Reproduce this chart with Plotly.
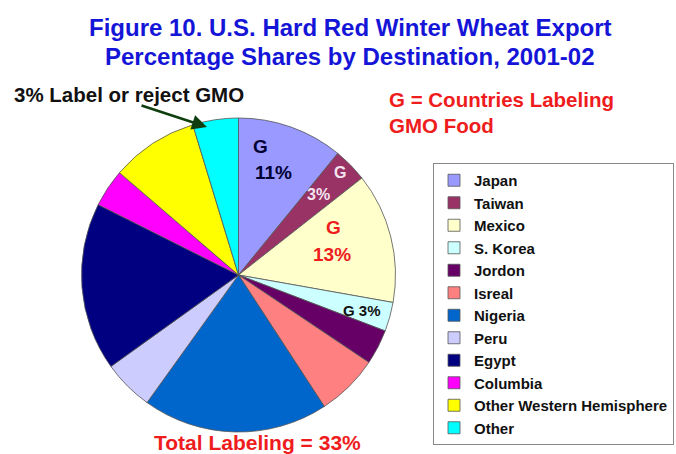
import plotly.graph_objects as go

countries = ["Japan", "Taiwan", "Mexico", "S. Korea", "Jordon", "Isreal", "Nigeria",
             "Peru", "Egypt", "Columbia", "Other Western Hemisphere", "Other"]
shares = [10.9, 3.5, 13.4, 3.0, 3.6, 6.4, 19.1, 5.2, 17.3, 3.9, 9.0, 4.7]
colors = ["#9999FF", "#993366", "#FFFFCC", "#CCFFFF", "#660066", "#FF8080", "#0066CC",
          "#CCCCFF", "#000080", "#FF00FF", "#FFFF00", "#00FFFF"]

W, H = 676, 454
cx, cy, R = 238.5, 275, 157

fig = go.Figure(go.Pie(
    labels=countries, values=shares, sort=False, direction="clockwise", rotation=0,
    marker=dict(colors=colors, line=dict(color="#555555", width=0.8)),
    textinfo="none", hoverinfo="label+percent",
    domain=dict(x=[(cx - R) / W, (cx + R) / W], y=[1 - (cy + R) / H, 1 - (cy - R) / H]),
))

def px(x, y):
    return dict(x=x / W, y=1 - y / H, xref="paper", yref="paper")

F = "Liberation Sans, Arial, sans-serif"
ann = []
def txt(s, x, y, size, color, anchor="center"):
    a = dict(text=s, showarrow=False, font=dict(family=F, size=size, color=color, weight="bold"),
             xanchor=anchor, yanchor="middle", **px(x, y))
    ann.append(a)

txt("Figure 10. U.S. Hard Red Winter Wheat Export", 350, 27, 24, "#1515D8")
txt("Percentage Shares by Destination, 2001-02", 350, 57, 24, "#1515D8")
txt("3% Label or reject GMO", 128.5, 95, 20.5, "#111111")
txt("G = Countries Labeling", 387, 100, 20.5, "#EE1C1C", "left")
txt("GMO Food", 387, 125, 20.5, "#EE1C1C", "left")
txt("G", 260, 147, 19, "#000033")
txt("11%", 273, 173, 19, "#000033")
txt("G", 340, 173, 16, "#F4E4F0")
txt("3%", 318, 194, 16, "#F4E4F0")
txt("G", 333, 227, 19, "#EE1C1C")
txt("13%", 332, 254, 19, "#EE1C1C")
txt("G 3%", 362, 310, 15, "#111111")
txt("Total Labeling = 33%", 257.5, 442, 21, "#EE1C1C")

arrow = dict(text="", showarrow=True, arrowhead=2, arrowsize=1.2, arrowwidth=2.5,
             arrowcolor="#0F3F0F", axref="pixel", ayref="pixel",
             ax=140 - 207, ay=105 - 127, **px(207, 127))
ann.append(arrow)

fig.update_layout(
    width=W, height=H, margin=dict(l=0, r=0, t=0, b=0),
    paper_bgcolor="white", plot_bgcolor="white",
    annotations=ann,
    legend=dict(x=674 / W, y=1 - 163 / H, xanchor="right", yanchor="top",
                bordercolor="#888888", borderwidth=1, bgcolor="white",
                font=dict(family=F, size=15, color="#111111", weight="bold"),
                itemwidth=30),
)
fig.write_html("out.html", config={"displayModeBar": False},
               post_script="document.body.style.margin='0px';")
